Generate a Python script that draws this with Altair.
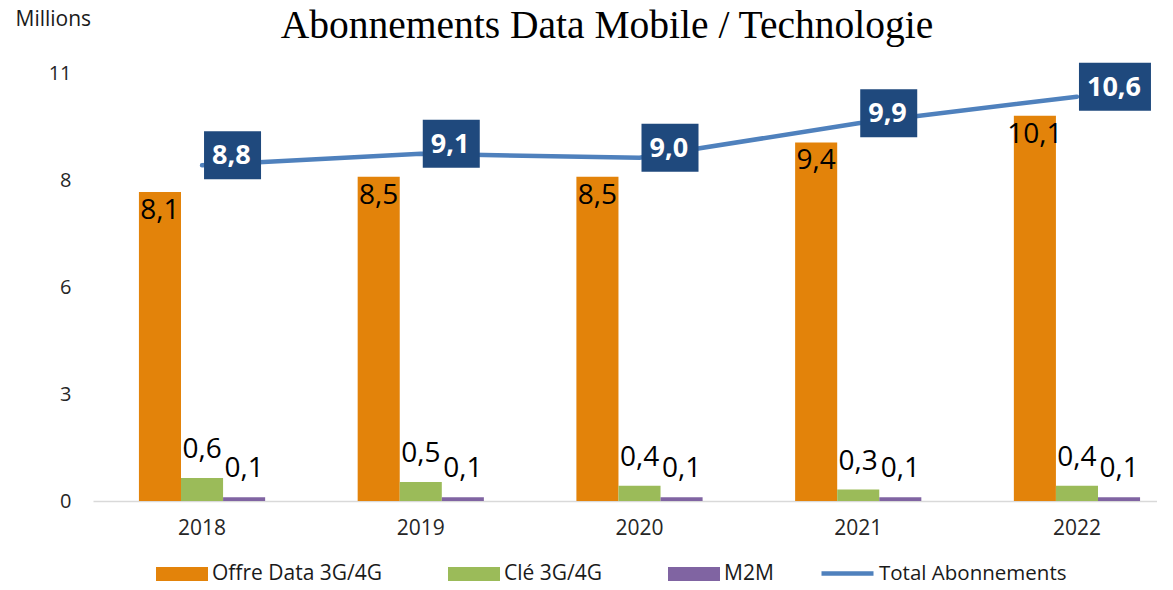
import altair as alt
import pandas as pd

years = ["2018", "2019", "2020", "2021", "2022"]
offre = [8.1, 8.5, 8.5, 9.4, 10.1]
cle = [0.6, 0.5, 0.4, 0.3, 0.4]
m2m = [0.1, 0.1, 0.1, 0.1, 0.1]
total = [8.8, 9.1, 9.0, 9.9, 10.6]
bar_series = ["Offre Data 3G/4G", "Clé 3G/4G", "M2M"]
bar_colors = ["#E3830A", "#9BBB59", "#8064A2"]
line_series = ["Total Abonnements"]
line_colors = ["#4F81BD"]
y_max = 11.22
y_ticks = [0, 2.805, 5.61, 8.415, 11.22]

bars_df = pd.DataFrame({
    "year": years * 3,
    "series": [bar_series[0]] * 5 + [bar_series[1]] * 5 + [bar_series[2]] * 5,
    "value": offre + cle + m2m,
})
total_df = pd.DataFrame({"year": years, "series": line_series * 5, "value": total})

FONT = "Open Sans"
label_expr = "replace(format(datum.value, '.1f'), '.', ',')"

fill = alt.Fill("series:N", sort=bar_series,
                scale=alt.Scale(domain=bar_series, range=bar_colors),
                legend=alt.Legend(title=None, orient="none", legendX=63, legendY=475,
                                  direction="horizontal", columnPadding=65, labelOffset=4,
                                  labelFont=FONT, labelFontSize=21, labelColor="#1a1a1a",
                                  labelLimit=400,
                                  symbolType="M-1,-0.27L1,-0.27L1,0.27L-1,0.27Z",
                                  symbolSize=2704, symbolStrokeWidth=0, symbolOpacity=1))
stroke = alt.Stroke("series:N",
                    scale=alt.Scale(domain=line_series, range=line_colors),
                    legend=alt.Legend(title=None, orient="none", legendX=726, legendY=472,
                                      direction="horizontal", labelOffset=3,
                                      labelFont=FONT, labelFontSize=20.5, labelColor="#1a1a1a",
                                      labelLimit=400,
                                      symbolType="stroke", symbolSize=2704,
                                      symbolStrokeWidth=4.5, symbolOpacity=1))

x = alt.X("year:N", sort=years,
          scale=alt.Scale(range=[0, 1093], paddingInner=0.423, paddingOuter=0.21),
          axis=alt.Axis(title=None, labelAngle=0, ticks=False, grid=False,
                        domainColor="#D9D9D9", domainWidth=1.5,
                        labelFont=FONT, labelFontSize=21, labelColor="#262626",
                        labelPadding=16))
y = alt.Y("value:Q", scale=alt.Scale(domain=[0, y_max], nice=False, zero=True),
          axis=alt.Axis(values=y_ticks, labelExpr="format(datum.value, '.0f')",
                        grid=False, ticks=False, domain=False,
                        labelFont=FONT, labelFontSize=20, labelColor="#262626",
                        labelPadding=22,
                        title="Millions", titleAngle=0, titleX=-78, titleY=-65,
                        titleAlign="left", titleBaseline="top", titleFont=FONT,
                        titleFontSize=21, titleFontWeight="normal", titleColor="#1a1a1a"))
xoff = alt.XOffset("series:N", sort=bar_series,
                   scale=alt.Scale(paddingInner=0, paddingOuter=0))

base_bars = alt.Chart(bars_df).transform_calculate(label=label_expr)

bars = base_bars.mark_bar().encode(x=x, y=y, xOffset=xoff, fill=fill)

lbl_in = base_bars.transform_filter(f"datum.series === '{bar_series[0]}'").mark_text(
    align="center", baseline="alphabetic", dy=27, font=FONT, fontSize=28, color="black"
).encode(x=x, y=y, xOffset=xoff, text="label:N")

lbl_out = base_bars.transform_filter(f"datum.series !== '{bar_series[0]}'").mark_text(
    align="center", baseline="alphabetic", dy=-20, font=FONT, fontSize=28, color="black"
).encode(x=x, y=y, xOffset=xoff, text="label:N")

base_total = alt.Chart(total_df).transform_calculate(label=label_expr)

line = base_total.mark_line(strokeWidth=4.5, strokeCap="round").encode(x=x, y=y, stroke=stroke)

path_short = "M0,-0.842L2,-0.842L2,0.842L0,0.842Z"
path_long = "M0,-0.667L2,-0.667L2,0.667L0,0.667Z"
boxes = base_total.mark_point(filled=True, opacity=1, color="#1F497D", strokeWidth=0,
                              xOffset=2, yOffset=-10).encode(
    x=x, y=y,
    shape=alt.condition("length(datum.label) > 3", alt.value(path_long), alt.value(path_short)),
    size=alt.condition("length(datum.label) > 3", alt.value(5184), alt.value(3249)),
)
box_text = base_total.mark_text(align="left", baseline="middle", dx=10, dy=-9,
                                font=FONT, fontSize=27, fontWeight="bold", color="white").encode(
    x=x, y=y, text="label:N")

chart = alt.layer(bars, lbl_in, lbl_out, line, boxes, box_text).properties(
    width=1064, height=428,
    title=alt.TitleParams("Abonnements Data Mobile / Technologie", font="Liberation Serif",
                          fontSize=39.5, fontWeight="normal", color="black", anchor="middle",
                          frame="group", dx=-18, dy=38, offset=0),
    autosize=alt.AutoSizeParams(type="none"),
    padding={"left": 85, "top": 65, "right": 0, "bottom": 80},
).configure_view(stroke=None)

chart.save("out.html", embed_options={"renderer": "svg", "actions": False})
